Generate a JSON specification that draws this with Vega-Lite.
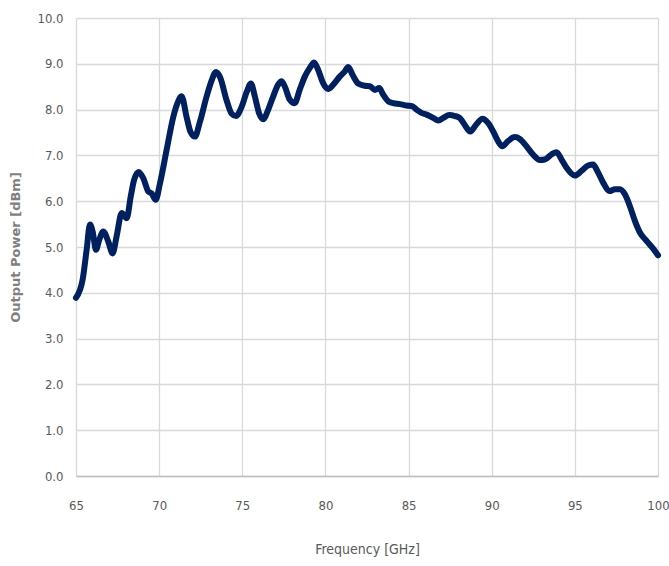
{
  "$schema": "https://vega.github.io/schema/vega-lite/v6.json",
  "width": 582,
  "height": 458,
  "autosize": "none",
  "padding": {"left": 76, "top": 18, "right": 11, "bottom": 90},
  "background": "white",
  "config": {
    "view": {"stroke": null},
    "axis": {
      "gridColor": "#d9d9d9",
      "gridWidth": 1.3,
      "ticks": false,
      "labelColor": "#595959",
      "titleColor": "#595959",
      "labelFont": "Liberation Sans Narrow, DejaVu Sans Condensed, sans-serif",
      "titleFont": "Liberation Sans Narrow, DejaVu Sans Condensed, sans-serif"
    }
  },
  "data": {
    "values": [
      {"f": 65.0, "p": 3.89}, {"f": 65.4, "p": 4.29}, {"f": 65.64, "p": 4.94}, {"f": 65.84, "p": 5.49},
      {"f": 66.0, "p": 5.34}, {"f": 66.2, "p": 4.94}, {"f": 66.4, "p": 5.16}, {"f": 66.64, "p": 5.34},
      {"f": 66.94, "p": 5.12}, {"f": 67.2, "p": 4.86}, {"f": 67.44, "p": 5.23}, {"f": 67.75, "p": 5.74},
      {"f": 68.05, "p": 5.63}, {"f": 68.29, "p": 6.1}, {"f": 68.49, "p": 6.46}, {"f": 68.77, "p": 6.64},
      {"f": 69.05, "p": 6.5}, {"f": 69.35, "p": 6.21}, {"f": 69.55, "p": 6.17}, {"f": 69.79, "p": 6.03},
      {"f": 70.05, "p": 6.39}, {"f": 70.45, "p": 7.12}, {"f": 70.85, "p": 7.84}, {"f": 71.09, "p": 8.13},
      {"f": 71.35, "p": 8.29}, {"f": 71.65, "p": 7.84}, {"f": 71.89, "p": 7.51}, {"f": 72.15, "p": 7.41},
      {"f": 72.45, "p": 7.73}, {"f": 72.85, "p": 8.28}, {"f": 73.16, "p": 8.64}, {"f": 73.42, "p": 8.82},
      {"f": 73.66, "p": 8.71}, {"f": 74.06, "p": 8.2}, {"f": 74.36, "p": 7.91}, {"f": 74.62, "p": 7.86},
      {"f": 74.96, "p": 8.06}, {"f": 75.26, "p": 8.38}, {"f": 75.52, "p": 8.57}, {"f": 75.76, "p": 8.28},
      {"f": 76.02, "p": 7.91}, {"f": 76.26, "p": 7.79}, {"f": 76.56, "p": 8.0}, {"f": 76.86, "p": 8.29},
      {"f": 77.15, "p": 8.54}, {"f": 77.35, "p": 8.62}, {"f": 77.55, "p": 8.51}, {"f": 77.85, "p": 8.22},
      {"f": 78.15, "p": 8.14}, {"f": 78.45, "p": 8.43}, {"f": 78.76, "p": 8.72}, {"f": 79.06, "p": 8.91},
      {"f": 79.32, "p": 9.03}, {"f": 79.56, "p": 8.87}, {"f": 79.86, "p": 8.58}, {"f": 80.16, "p": 8.45},
      {"f": 80.46, "p": 8.54}, {"f": 80.86, "p": 8.72}, {"f": 81.16, "p": 8.83}, {"f": 81.37, "p": 8.93},
      {"f": 81.63, "p": 8.76}, {"f": 81.97, "p": 8.57}, {"f": 82.37, "p": 8.52}, {"f": 82.67, "p": 8.51},
      {"f": 82.97, "p": 8.43}, {"f": 83.23, "p": 8.47}, {"f": 83.47, "p": 8.33}, {"f": 83.78, "p": 8.18},
      {"f": 84.08, "p": 8.14}, {"f": 84.48, "p": 8.12}, {"f": 84.88, "p": 8.09}, {"f": 85.24, "p": 8.07},
      {"f": 85.48, "p": 8.0}, {"f": 85.78, "p": 7.93}, {"f": 86.08, "p": 7.89}, {"f": 86.48, "p": 7.82},
      {"f": 86.79, "p": 7.76}, {"f": 87.09, "p": 7.82}, {"f": 87.45, "p": 7.88}, {"f": 87.79, "p": 7.86},
      {"f": 88.07, "p": 7.82}, {"f": 88.37, "p": 7.67}, {"f": 88.71, "p": 7.52}, {"f": 89.08, "p": 7.68},
      {"f": 89.44, "p": 7.8}, {"f": 89.78, "p": 7.71}, {"f": 90.08, "p": 7.53}, {"f": 90.38, "p": 7.31},
      {"f": 90.64, "p": 7.2}, {"f": 90.98, "p": 7.31}, {"f": 91.39, "p": 7.4}, {"f": 91.69, "p": 7.36},
      {"f": 92.09, "p": 7.2}, {"f": 92.53, "p": 7.0}, {"f": 92.89, "p": 6.9}, {"f": 93.19, "p": 6.91},
      {"f": 93.59, "p": 7.02}, {"f": 93.9, "p": 7.07}, {"f": 94.2, "p": 6.91}, {"f": 94.5, "p": 6.73},
      {"f": 95.0, "p": 6.56}, {"f": 95.4, "p": 6.66}, {"f": 95.8, "p": 6.78}, {"f": 96.1, "p": 6.8},
      {"f": 96.35, "p": 6.66}, {"f": 96.71, "p": 6.4}, {"f": 97.07, "p": 6.22}, {"f": 97.41, "p": 6.26},
      {"f": 97.71, "p": 6.26}, {"f": 98.01, "p": 6.15}, {"f": 98.31, "p": 5.89}, {"f": 98.61, "p": 5.57},
      {"f": 98.92, "p": 5.31}, {"f": 99.32, "p": 5.13}, {"f": 99.72, "p": 4.96}, {"f": 100.0, "p": 4.82}
    ]
  },
  "mark": {"type": "line", "color": "#002060", "strokeWidth": 6, "interpolate": "monotone", "strokeCap": "round", "strokeJoin": "round", "clip": false},
  "encoding": {
    "x": {
      "field": "f", "type": "quantitative",
      "scale": {"domain": [65, 100], "nice": false, "zero": false},
      "axis": {
        "title": "Frequency [GHz]", "values": [65, 70, 75, 80, 85, 90, 95, 100],
        "labelFontSize": 13, "labelPadding": 23, "titleFontSize": 14, "titleFontWeight": "normal",
        "titlePadding": 30, "domain": true, "domainColor": "#bfbfbf", "domainWidth": 1.5,
        "labelFlush": false
      }
    },
    "y": {
      "field": "p", "type": "quantitative",
      "scale": {"domain": [0, 10], "nice": false},
      "axis": {
        "title": "Output Power [dBm]", "values": [0, 1, 2, 3, 4, 5, 6, 7, 8, 9, 10], "format": ".1f",
        "labelFontSize": 13, "labelPadding": 13, "domain": false,
        "titleFont": "DejaVu Sans", "titleFontSize": 13, "titleFontWeight": 600, "titleColor": "#7f7f7f",
        "titlePadding": 14
      }
    }
  }
}
